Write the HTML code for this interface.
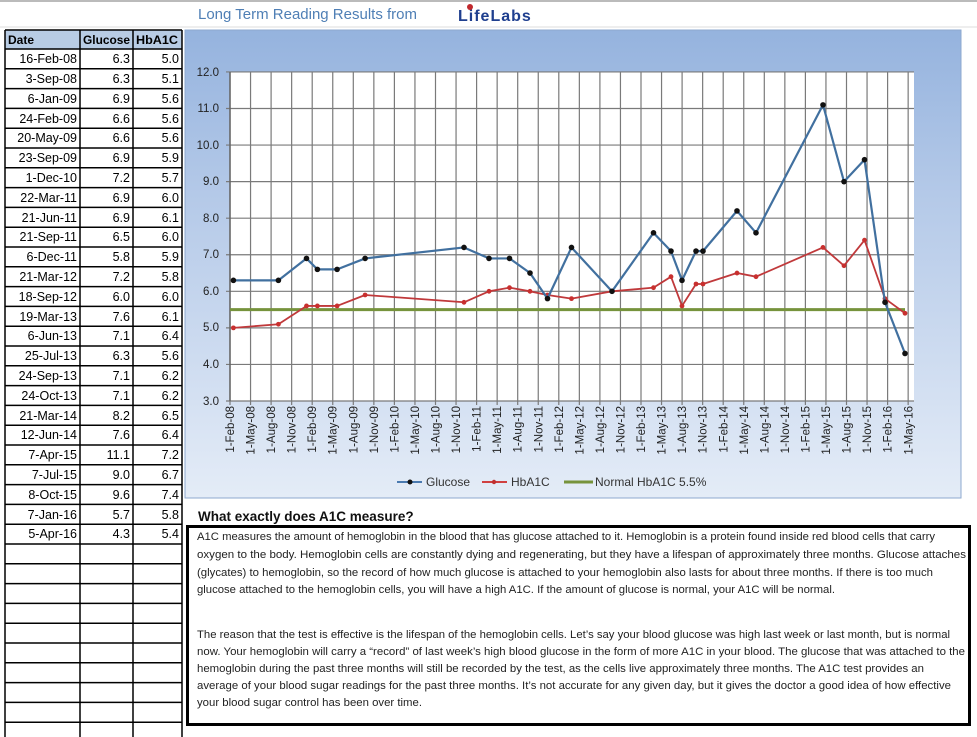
<!DOCTYPE html>
<html><head><meta charset="utf-8"><style>
html,body{margin:0;padding:0;background:#fff;width:977px;height:737px;overflow:hidden}
svg{display:block;font-family:"Liberation Sans",sans-serif}
</style></head><body>
<svg id="s" width="977" height="737" viewBox="0 0 977 737" xmlns="http://www.w3.org/2000/svg">
<defs>
<linearGradient id="pg" x1="0" y1="0" x2="0" y2="1">
<stop offset="0" stop-color="#95b3de"/><stop offset="0.35" stop-color="#b4c9e8"/><stop offset="1" stop-color="#e4ecf7"/>
</linearGradient>
</defs>
<rect x="0" y="0" width="977" height="2" fill="#bbb"/>
<text x="198" y="19" font-size="15" fill="#4f7fb5">Long Term Reading Results from</text>
<text x="458" y="21" font-size="16" font-weight="bold" fill="#1f3f8f" letter-spacing="1">LifeLabs</text>
<circle cx="470" cy="7" r="3" fill="#c0282d"/>
<line x1="0" y1="27" x2="977" y2="27" stroke="#ddd"/>
<rect x="185" y="30" width="776" height="468" fill="url(#pg)" stroke="#8ea9cf"/>
<rect x="230" y="72" width="684" height="329" fill="#fff"/>
<g id="grid"></g>
<g font-size="11.5" fill="#222" text-anchor="end">
<text x="219" y="76">12.0</text><text x="219" y="112">11.0</text><text x="219" y="149">10.0</text>
<text x="219" y="185">9.0</text><text x="219" y="222">8.0</text><text x="219" y="258">7.0</text>
<text x="219" y="295">6.0</text><text x="219" y="331">5.0</text><text x="219" y="368">4.0</text>
<text x="219" y="405">3.0</text>
</g>
<g id="xl" font-size="11.5" fill="#222" text-anchor="end">
<text transform="translate(234,406) rotate(-90)">1-Feb-08</text>
<text transform="translate(254.5,406) rotate(-90)">1-May-08</text>
<text transform="translate(275,406) rotate(-90)">1-Aug-08</text>
<text transform="translate(295.6,406) rotate(-90)">1-Nov-08</text>
<text transform="translate(316.2,406) rotate(-90)">1-Feb-09</text>
<text transform="translate(336.7,406) rotate(-90)">1-May-09</text>
<text transform="translate(357.3,406) rotate(-90)">1-Aug-09</text>
<text transform="translate(377.8,406) rotate(-90)">1-Nov-09</text>
<text transform="translate(398.4,406) rotate(-90)">1-Feb-10</text>
<text transform="translate(419,406) rotate(-90)">1-May-10</text>
<text transform="translate(439.5,406) rotate(-90)">1-Aug-10</text>
<text transform="translate(460,406) rotate(-90)">1-Nov-10</text>
<text transform="translate(480.6,406) rotate(-90)">1-Feb-11</text>
<text transform="translate(501.2,406) rotate(-90)">1-May-11</text>
<text transform="translate(521.7,406) rotate(-90)">1-Aug-11</text>
<text transform="translate(542.3,406) rotate(-90)">1-Nov-11</text>
<text transform="translate(562.8,406) rotate(-90)">1-Feb-12</text>
<text transform="translate(583.4,406) rotate(-90)">1-May-12</text>
<text transform="translate(604,406) rotate(-90)">1-Aug-12</text>
<text transform="translate(624.5,406) rotate(-90)">1-Nov-12</text>
<text transform="translate(645,406) rotate(-90)">1-Feb-13</text>
<text transform="translate(665.6,406) rotate(-90)">1-May-13</text>
<text transform="translate(686.2,406) rotate(-90)">1-Aug-13</text>
<text transform="translate(706.7,406) rotate(-90)">1-Nov-13</text>
<text transform="translate(727.3,406) rotate(-90)">1-Feb-14</text>
<text transform="translate(747.8,406) rotate(-90)">1-May-14</text>
<text transform="translate(768.4,406) rotate(-90)">1-Aug-14</text>
<text transform="translate(789,406) rotate(-90)">1-Nov-14</text>
<text transform="translate(809.5,406) rotate(-90)">1-Feb-15</text>
<text transform="translate(830,406) rotate(-90)">1-May-15</text>
<text transform="translate(850.6,406) rotate(-90)">1-Aug-15</text>
<text transform="translate(871.2,406) rotate(-90)">1-Nov-15</text>
<text transform="translate(891.7,406) rotate(-90)">1-Feb-16</text>
<text transform="translate(912.3,406) rotate(-90)">1-May-16</text>
</g>
<g id="series"></g>
<line x1="397" y1="482" x2="422" y2="482" stroke="#4a7ab0" stroke-width="2"/><circle cx="410" cy="482" r="2.5" fill="#111"/>
<text x="426" y="486" font-size="12" fill="#333">Glucose</text>
<line x1="482" y1="482" x2="507" y2="482" stroke="#d04040" stroke-width="2"/><circle cx="494" cy="482" r="2.2" fill="#c03030"/>
<text x="511" y="486" font-size="12" fill="#333">HbA1C</text>
<line x1="564" y1="482" x2="593" y2="482" stroke="#76933c" stroke-width="3"/>
<text x="595" y="486" font-size="12" fill="#333">Normal HbA1C 5.5%</text>
<g id="tbl"></g>
<g font-size="12" fill="#000" font-weight="bold">
<text x="8" y="44">Date</text><text x="83" y="44" textLength="47" lengthAdjust="spacingAndGlyphs">Glucose</text><text x="136" y="44" textLength="42" lengthAdjust="spacingAndGlyphs">HbA1C</text>
</g>
<g font-size="12.5" fill="#000" text-anchor="end">
<text x="77" y="63">16-Feb-08</text><text x="130" y="63">6.3</text><text x="179" y="63">5.0</text>
<text x="77" y="83">3-Sep-08</text><text x="130" y="83">6.3</text><text x="179" y="83">5.1</text>
<text x="77" y="103">6-Jan-09</text><text x="130" y="103">6.9</text><text x="179" y="103">5.6</text>
<text x="77" y="123">24-Feb-09</text><text x="130" y="123">6.6</text><text x="179" y="123">5.6</text>
<text x="77" y="142">20-May-09</text><text x="130" y="142">6.6</text><text x="179" y="142">5.6</text>
<text x="77" y="162">23-Sep-09</text><text x="130" y="162">6.9</text><text x="179" y="162">5.9</text>
<text x="77" y="182">1-Dec-10</text><text x="130" y="182">7.2</text><text x="179" y="182">5.7</text>
<text x="77" y="202">22-Mar-11</text><text x="130" y="202">6.9</text><text x="179" y="202">6.0</text>
<text x="77" y="222">21-Jun-11</text><text x="130" y="222">6.9</text><text x="179" y="222">6.1</text>
<text x="77" y="241">21-Sep-11</text><text x="130" y="241">6.5</text><text x="179" y="241">6.0</text>
<text x="77" y="261">6-Dec-11</text><text x="130" y="261">5.8</text><text x="179" y="261">5.9</text>
<text x="77" y="281">21-Mar-12</text><text x="130" y="281">7.2</text><text x="179" y="281">5.8</text>
<text x="77" y="301">18-Sep-12</text><text x="130" y="301">6.0</text><text x="179" y="301">6.0</text>
<text x="77" y="321">19-Mar-13</text><text x="130" y="321">7.6</text><text x="179" y="321">6.1</text>
<text x="77" y="340">6-Jun-13</text><text x="130" y="340">7.1</text><text x="179" y="340">6.4</text>
<text x="77" y="360">25-Jul-13</text><text x="130" y="360">6.3</text><text x="179" y="360">5.6</text>
<text x="77" y="380">24-Sep-13</text><text x="130" y="380">7.1</text><text x="179" y="380">6.2</text>
<text x="77" y="400">24-Oct-13</text><text x="130" y="400">7.1</text><text x="179" y="400">6.2</text>
<text x="77" y="420">21-Mar-14</text><text x="130" y="420">8.2</text><text x="179" y="420">6.5</text>
<text x="77" y="439">12-Jun-14</text><text x="130" y="439">7.6</text><text x="179" y="439">6.4</text>
<text x="77" y="459">7-Apr-15</text><text x="130" y="459">11.1</text><text x="179" y="459">7.2</text>
<text x="77" y="479">7-Jul-15</text><text x="130" y="479">9.0</text><text x="179" y="479">6.7</text>
<text x="77" y="499">8-Oct-15</text><text x="130" y="499">9.6</text><text x="179" y="499">7.4</text>
<text x="77" y="519">7-Jan-16</text><text x="130" y="519">5.7</text><text x="179" y="519">5.8</text>
<text x="77" y="538">5-Apr-16</text><text x="130" y="538">4.3</text><text x="179" y="538">5.4</text>
</g>
<text x="198" y="521" font-size="13.5" font-weight="bold" fill="#111">What exactly does A1C measure?</text>
<rect x="187.5" y="526.5" width="782" height="198" fill="#fff" stroke="#000" stroke-width="3"/>
<g font-size="11" fill="#222">
<text x="197" y="540" textLength="738" lengthAdjust="spacingAndGlyphs">A1C measures the amount of hemoglobin in the blood that has glucose attached to it. Hemoglobin is a protein found inside red blood cells that carry</text>
<text x="197" y="558" textLength="769" lengthAdjust="spacingAndGlyphs">oxygen to the body. Hemoglobin cells are constantly dying and regenerating, but they have a lifespan of approximately three months. Glucose attaches</text>
<text x="197" y="576" textLength="736" lengthAdjust="spacingAndGlyphs">(glycates) to hemoglobin, so the record of how much glucose is attached to your hemoglobin also lasts for about three months. If there is too much</text>
<text x="197" y="593" textLength="638" lengthAdjust="spacingAndGlyphs">glucose attached to the hemoglobin cells, you will have a high A1C. If the amount of glucose is normal, your A1C will be normal.</text>
<text x="197" y="638" textLength="753" lengthAdjust="spacingAndGlyphs">The reason that the test is effective is the lifespan of the hemoglobin cells. Let’s say your blood glucose was high last week or last month, but is normal</text>
<text x="197" y="655" textLength="768" lengthAdjust="spacingAndGlyphs">now. Your hemoglobin will carry a “record” of last week’s high blood glucose in the form of more A1C in your blood. The glucose that was attached to the</text>
<text x="197" y="672" textLength="727" lengthAdjust="spacingAndGlyphs">hemoglobin during the past three months will still be recorded by the test, as the cells live approximately three months. The A1C test provides an</text>
<text x="197" y="689" textLength="754" lengthAdjust="spacingAndGlyphs">average of your blood sugar readings for the past three months. It’s not accurate for any given day, but it gives the doctor a good idea of how effective</text>
<text x="197" y="706" textLength="225" lengthAdjust="spacingAndGlyphs">your blood sugar control has been over time.</text>
</g>
</svg>
<script>
(function(){
var NS="http://www.w3.org/2000/svg";
function el(p,t,a){var e=document.createElementNS(NS,t);for(var k in a)e.setAttribute(k,a[k]);p.appendChild(e);return e;}
var g=document.getElementById("grid");
for(var i=0;i<=9;i++){var y=401-i*36.56;el(g,"line",{x1:226,x2:914,y1:y,y2:y,stroke:"#7a7a7a","stroke-width":1.2});}
for(var j=0;j<=33;j++){var x=230+j*20.55;el(g,"line",{x1:x,x2:x,y1:72,y2:405,stroke:"#7a7a7a","stroke-width":1.2});}
el(g,"line",{x1:230,x2:230,y1:72,y2:401,stroke:"#666","stroke-width":1.5});
var xs=[233.4,278.4,306.5,317.4,337.1,365.1,464,489,509.5,530,547.5,571.5,612,653.5,671,682,696,703,737,756,823,844,864.5,885,905];
var gl=[6.3,6.3,6.9,6.6,6.6,6.9,7.2,6.9,6.9,6.5,5.8,7.2,6.0,7.6,7.1,6.3,7.1,7.1,8.2,7.6,11.1,9.0,9.6,5.7,4.3];
var hb=[5.0,5.1,5.6,5.6,5.6,5.9,5.7,6.0,6.1,6.0,5.9,5.8,6.0,6.1,6.4,5.6,6.2,6.2,6.5,6.4,7.2,6.7,7.4,5.8,5.4];
function Y(v){return 401-(v-3)*36.56;}
var s=document.getElementById("series");
el(s,"line",{x1:230,x2:905,y1:Y(5.5),y2:Y(5.5),stroke:"#76933c","stroke-width":3});
function ser(d,c,w,mc,r){var p=d.map(function(v,i){return xs[i]+","+Y(v);}).join(" ");
el(s,"polyline",{points:p,fill:"none",stroke:c,"stroke-width":w,"stroke-linejoin":"round"});
d.forEach(function(v,i){el(s,"circle",{cx:xs[i],cy:Y(v),r:r,fill:mc});});}
ser(hb,"#c0393b",1.8,"#c8302f",2.4);
ser(gl,"#41709f",2.2,"#111",2.8);
var t=document.getElementById("tbl");
el(t,"rect",{x:5,y:30,width:177,height:19,fill:"#b8cce4"});
var ys=[30,49];for(var r=1;r<=35;r++)ys.push(49+r*19.8);
ys.forEach(function(y){el(t,"line",{x1:5,x2:182,y1:y,y2:y,stroke:"#000","stroke-width":1.5});});
[5,80,133,182].forEach(function(x){el(t,"line",{x1:x,x2:x,y1:30,y2:737,stroke:"#000","stroke-width":1.5});});
})();
</script>
</body></html>
